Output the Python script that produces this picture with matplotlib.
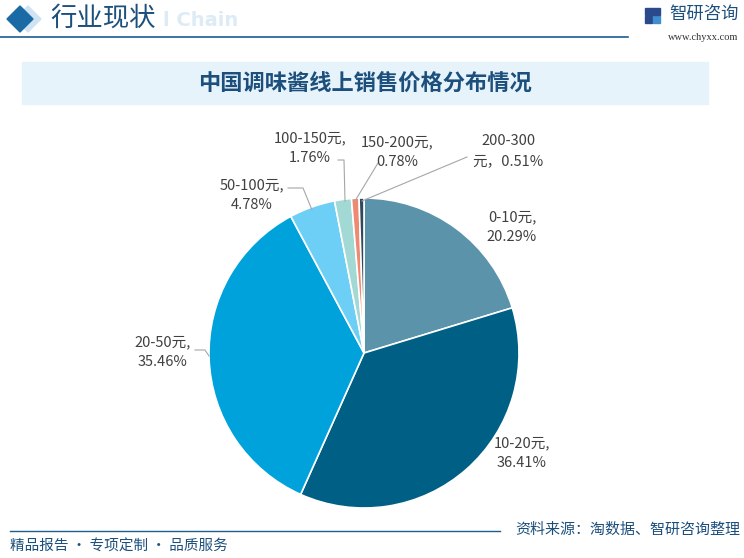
import numpy as np
import matplotlib.pyplot as plt
from matplotlib.patches import Rectangle, Polygon

plt.rcParams['font.family'] = ['Noto Sans CJK SC', 'DejaVu Sans']

# data
categories = ['0-10元', '10-20元', '20-50元', '50-100元', '100-150元', '150-200元', '200-300元']
shares = [20.29, 36.41, 35.46, 4.78, 1.76, 0.78, 0.51]
colors = ['#5b93ab', '#005f85', '#00a2dc', '#6dcff5', '#a3d9d5', '#ef8a72', '#2e4a5a']

W, H = 744, 558
fig = plt.figure(figsize=(W / 100, H / 100), dpi=100)

def fx(px):
    return px / W

def fy(py):
    return 1 - py / H

def diamond(cx, cy, s, color):
    pts = [[fx(cx - s), fy(cy)], [fx(cx), fy(cy - s)], [fx(cx + s), fy(cy)], [fx(cx), fy(cy + s)]]
    fig.patches.append(Polygon(pts, closed=True, transform=fig.transFigure, color=color))

# header
fig.text(fx(163), fy(21), 'l Chain', fontsize=14, color='#dcebf6', fontweight='bold',
         va='center', ha='left', family=['DejaVu Sans'])
diamond(28, 19, 13, '#cfe3f2')
diamond(20, 19, 13, '#1a6aa5')
fig.text(fx(50), fy(18), '行业现状', fontsize=19, color='#1c4f7c', va='center', ha='left')
fig.add_artist(plt.Line2D([0, fx(628)], [fy(37), fy(37)], color='#1b5e91', lw=1.2))
fig.text(fx(739), fy(14), '智研咨询', fontsize=12.5, color='#1c4f7c', va='center', ha='right')
fig.patches.append(Rectangle((fx(645), fy(23)), fx(7), 7 / H, transform=fig.transFigure, color='#2b4a8c'))
fig.patches.append(Rectangle((fx(653), fy(23)), fx(7), 7 / H, transform=fig.transFigure, color='#3f8fd0'))
fig.patches.append(Rectangle((fx(645), fy(15)), fx(15), 7 / H, transform=fig.transFigure, color='#2b4a8c'))
fig.text(fx(738), fy(38), 'www.chyxx.com', fontsize=7.5, color='#333333', va='center', ha='right',
         family=['Liberation Serif', 'DejaVu Serif'])

# title box
fig.patches.append(Rectangle((fx(22), fy(104)), fx(686), 42 / H, transform=fig.transFigure,
                             color='#e6f3fb', zorder=0))
fig.text(fx(365), fy(83), '中国调味酱线上销售价格分布情况', fontsize=16, color='#1c4f7c',
         fontweight='bold', va='center', ha='center')

# footer
fig.add_artist(plt.Line2D([fx(10), fx(500)], [fy(531), fy(531)], color='#1b5e91', lw=1.0))
fig.text(fx(740), fy(530), '资料来源：淘数据、智研咨询整理', fontsize=10.8, color='#1c4f7c', va='center', ha='right')
fig.text(fx(10), fy(547), '精品报告 · 专项定制 · 品质服务', fontsize=10.5, color='#1c4f7c', va='center', ha='left')

# pie
cx, cy, r = 364, 353, 155
ax = fig.add_axes([fx(cx - r), fy(cy + r), 2 * r / W, 2 * r / H])
wedges, _ = ax.pie(shares, colors=colors, startangle=90, counterclock=False, radius=1,
                   wedgeprops=dict(edgecolor='white', linewidth=1.2))
ax.set_xlim(-1, 1)
ax.set_ylim(-1, 1)
ax.set_aspect('equal')
ax.axis('off')

def d(px, py):
    return ((px - cx) / r, (cy - py) / r)

# label texts and positions (pixels)
label_texts = [
    '0-10元,\n20.29%',
    '10-20元,\n36.41%',
    '20-50元,\n35.46%',
    '50-100元,\n4.78%',
    '100-150元,\n1.76%',
    '150-200元,\n0.78%',
    '200-300\n元，0.51%',
]
label_pos = [(512, 227), (522, 453), (163, 352), (252, 195), (310, 148), (397, 152), (508, 151)]
leaders = {2: [(195, 350), (205, 350), (209, 356)],
           3: [(288, 188), (303, 188), (312, 210)],
           4: [(338, 160), (344, 160), (345, 201)],
           5: [(378, 163), (355, 201)],
           6: [(467, 157), (362, 201)]}

for i, w in enumerate(wedges):
    x, y = d(*label_pos[i])
    ax.text(x, y, label_texts[i], ha='center', va='center', fontsize=10.5, color='#404040',
            linespacing=1.55, clip_on=False)
    if i in leaders:
        pts = [d(*p) for p in leaders[i]]
        ax.plot([p[0] for p in pts], [p[1] for p in pts], color='#a6a6a6', lw=0.8, clip_on=False)

fig.savefig('out.png', dpi=100)
